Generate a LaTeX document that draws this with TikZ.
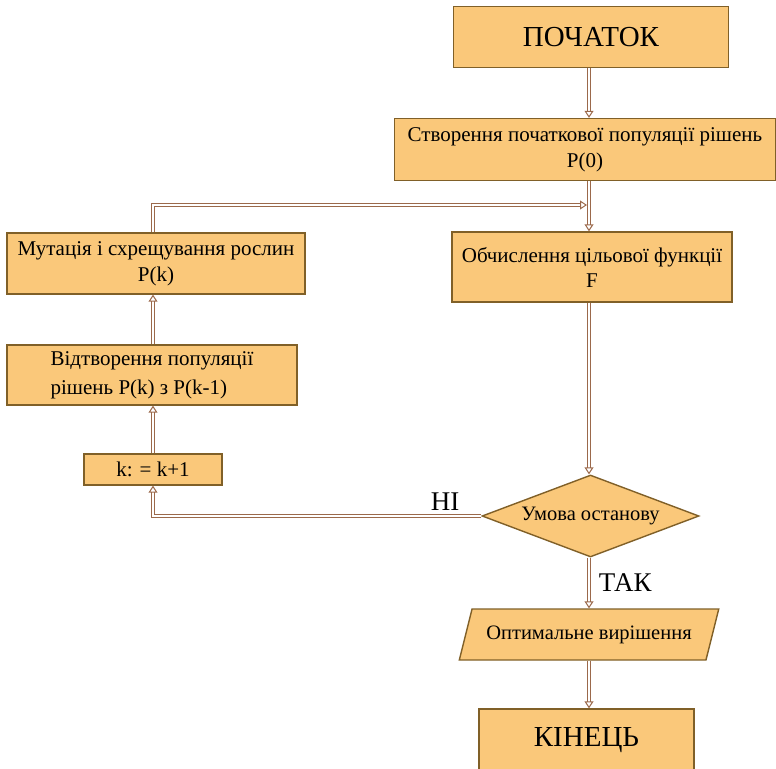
\documentclass[tikz,border=0pt]{standalone}
\usepackage{fontspec}
\setmainfont{Liberation Serif}
\usetikzlibrary{shapes.geometric,arrows.meta}
\definecolor{boxfill}{RGB}{250,200,122}
\definecolor{boxline}{RGB}{128,96,40}
\definecolor{linkcol}{RGB}{155,105,75}
\tikzset{
  blok/.style={draw=boxline, fill=boxfill, line width=1.4pt, inner sep=0pt, align=center},
  link/.style={draw=linkcol, line width=1pt, double=white, double distance=2.2pt, -{Triangle[open, length=7pt, width=9pt]}},
}
\begin{document}
\begin{tikzpicture}[x=1pt,y=-1pt]
  \useasboundingbox (0,0) rectangle (776,768);
  \node[blok, minimum width=275pt, minimum height=61pt, font=\fontsize{29}{32}\selectfont] (start) at (591,37) {ПОЧАТОК};
  \node[blok, minimum width=381pt, minimum height=62pt, font=\fontsize{21}{26}\selectfont] (init) at (585,149.5) {Створення початкової популяції рішень\\P(0)};
  \node[blok, minimum width=280pt, minimum height=70pt, font=\fontsize{21}{25}\selectfont] (eval) at (592,267) {Обчислення цільової функції\\F};
  \node[blok, minimum width=298pt, minimum height=61pt, font=\fontsize{21}{26}\selectfont] (mut) at (156,263.5) {Мутація і схрещування рослин\\P(k)};
  \node[blok, minimum width=290pt, minimum height=60pt, font=\fontsize{21}{29}\selectfont, align=left] (repro) at (152,375) {Відтворення популяції\\рішень P(k) з P(k-1)};
  \node[blok, minimum width=138pt, minimum height=31pt, font=\fontsize{21}{23}\selectfont] (inc) at (153,469.5) {k: = k+1};
  \node[blok, diamond, aspect=2.6, minimum width=217pt, minimum height=82pt, font=\fontsize{20.5}{22}\selectfont] (cond) at (590.5,516) {Умова останову};
  \node[blok, trapezium, trapezium left angle=58, trapezium right angle=122, trapezium stretches=true, minimum width=260pt, minimum height=51pt, font=\fontsize{20.5}{22}\selectfont] (opt) at (589,634.5) {Оптимальне вирішення};
  \node[blok, minimum width=215pt, minimum height=62pt, font=\fontsize{29}{32}\selectfont] (stop) at (586.5,740) {КІНЕЦЬ};
  \coordinate (join) at (587,205);
  % connectors
  \draw[link] (start.south -| 589,0) -- (init.north -| 589,0);
  \draw[link] (init.south -| 589,0) -- (eval.north -| 589,0);
  \draw[link] (eval.south -| 589,0) -- (cond.north -| 589,0);
  \draw[link] (cond.south -| 589,0) -- node[right, font=\fontsize{27}{29}\selectfont, xshift=6pt] (yes) {ТАК} (opt.north -| 589,0);
  \draw[link] (opt.south -| 589,0) -- (stop.north -| 589,0);
  \draw[link] (cond.west) node[above left, xshift=-18pt, yshift=2pt, font=\fontsize{27}{29}\selectfont] (no) {НІ} -| (inc.south);
  \draw[link] (inc.north) -- (repro.south -| inc.north);
  \draw[link] (repro.north -| inc.north) -- (mut.south -| inc.north);
  \draw[link] (mut.north -| inc.north) |- (join);
\end{tikzpicture}
\end{document}
